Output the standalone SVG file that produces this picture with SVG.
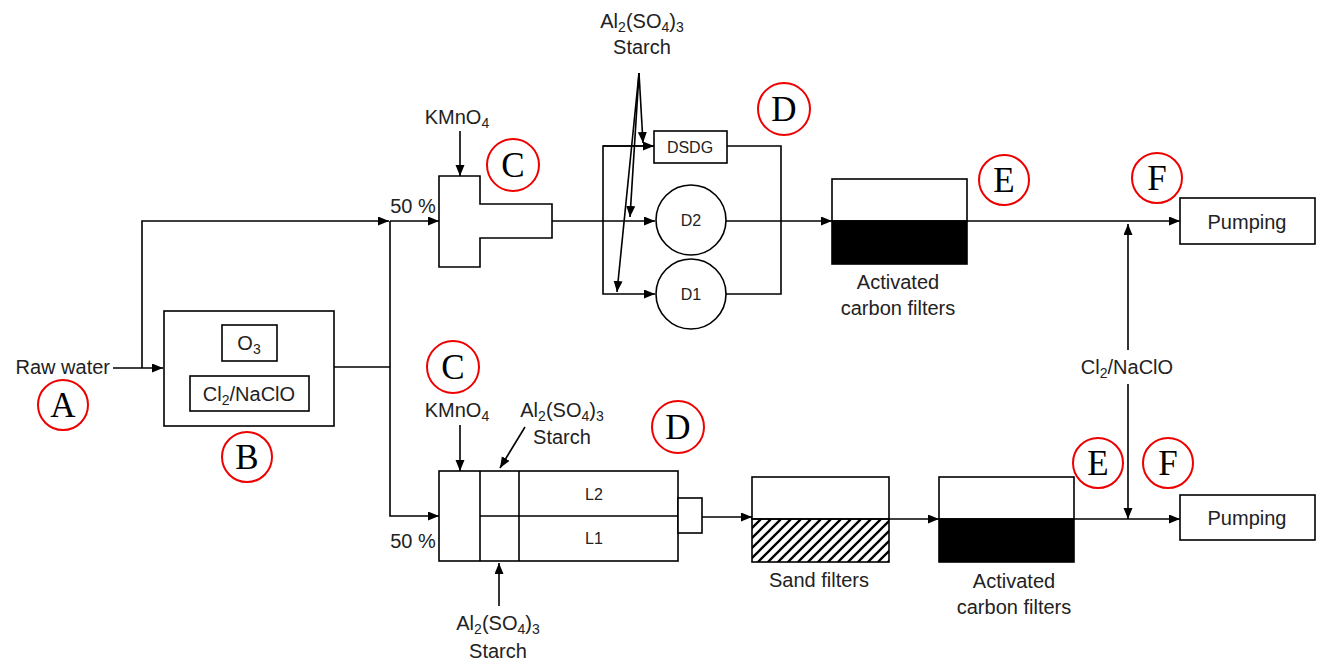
<svg xmlns="http://www.w3.org/2000/svg" width="1317" height="663" viewBox="0 0 1317 663">
<style>
.ln{fill:none;stroke:#000;stroke-width:1.6}
.bx{fill:#fff;stroke:#000;stroke-width:1.6}
.rc{fill:#fff;stroke:#e00;stroke-width:2}
.t{font-family:"Liberation Sans",Arial,sans-serif;font-size:20px;fill:#222}
.s{font-family:"Liberation Sans",Arial,sans-serif;font-size:16px;fill:#222}
.L{font-family:"Liberation Serif","Times New Roman",serif;font-size:35px;fill:#000}
.m{text-anchor:middle}
</style>
<defs>
<marker id="ah" markerUnits="userSpaceOnUse" markerWidth="12" markerHeight="10" refX="11" refY="4.5" orient="auto">
<path d="M0,0 L11,4.5 L0,9 z" fill="#000"/>
</marker>
<pattern id="hatch" patternUnits="userSpaceOnUse" width="10" height="10">
<path d="M-2,2 L2,-2 M0,10 L10,0 M8,12 L12,8" stroke="#000" stroke-width="2.3"/>
</pattern>
</defs>

<g id="connectors">
<path class="ln" d="M113,368 H163" marker-end="url(#ah)"/>
<path class="ln" d="M142,368 V221 H389" marker-end="url(#ah)"/>
<path class="ln" d="M334,367 H390"/>
<path class="ln" d="M390,221 V516 H439" marker-end="url(#ah)"/>
<path class="ln" d="M390,221 H439" marker-end="url(#ah)"/>
<path class="ln" d="M460,131 V176" marker-end="url(#ah)"/>
<path class="ln" d="M552,221 H655" marker-end="url(#ah)"/>
<path class="ln" d="M654,146 H603 V294 H655" marker-end="url(#ah)"/>
<path class="ln" d="M603,146 H654" marker-end="url(#ah)"/>
<path class="ln" d="M727,146 H781 V294 H726"/>
<path class="ln" d="M639,73 L643,143" marker-end="url(#ah)"/>
<path class="ln" d="M639,73 L630,217" marker-end="url(#ah)"/>
<path class="ln" d="M639,73 L617,292" marker-end="url(#ah)"/>
<path class="ln" d="M726,221 H832" marker-end="url(#ah)"/>
<path class="ln" d="M967,221 H1180" marker-end="url(#ah)"/>
<path class="ln" d="M1128,350 V224" marker-end="url(#ah)"/>
<path class="ln" d="M1128,384 V519" marker-end="url(#ah)"/>
<path class="ln" d="M460,425 V471" marker-end="url(#ah)"/>
<path class="ln" d="M525,427 L500,468" marker-end="url(#ah)"/>
<path class="ln" d="M499,606 V563" marker-end="url(#ah)"/>
<path class="ln" d="M702,517 H752" marker-end="url(#ah)"/>
<path class="ln" d="M889,519 H939" marker-end="url(#ah)"/>
<path class="ln" d="M1074,519 H1180" marker-end="url(#ah)"/>
</g>

<g id="raw-water">
<text class="t" x="110" y="374" text-anchor="end">Raw water</text>
</g>

<g id="pre-oxidation">
<rect class="bx" x="164" y="311" width="170" height="115"/>
<rect class="bx" x="222" y="325" width="55" height="36"/>
<text class="t m" x="249" y="350">O<tspan font-size="14" dy="4">3</tspan></text>
<rect class="bx" x="190" y="376" width="119" height="35"/>
<text class="t m" x="249" y="401">Cl<tspan font-size="14" dy="4">2</tspan><tspan dy="-4">/NaClO</tspan></text>
</g>

<g id="label-50-top"><text class="t m" x="413" y="213">50 %</text></g>
<g id="label-50-bottom"><text class="t m" x="413" y="548">50 %</text></g>

<g id="kmno4-top"><text class="t m" x="457" y="124">KMnO<tspan font-size="14" dy="4">4</tspan></text></g>
<g id="mixer-top">
<path class="bx" d="M439,176 H480 V204 H552 V238 H480 V267 H439 Z"/>
</g>

<g id="coag-top">
<text class="t m" x="642" y="28">Al<tspan font-size="14" dy="4">2</tspan><tspan dy="-4">(SO</tspan><tspan font-size="14" dy="4">4</tspan><tspan dy="-4">)</tspan><tspan font-size="14" dy="4">3</tspan></text>
<text class="t m" x="642" y="54">Starch</text>
</g>

<g id="dsdg">
<rect class="bx" x="654" y="131" width="73" height="32"/>
<text class="s m" x="690" y="153">DSDG</text>
</g>
<g id="d2">
<circle class="bx" cx="691" cy="220" r="35"/>
<text class="s m" x="691" y="226">D2</text>
</g>
<g id="d1">
<circle class="bx" cx="691" cy="294" r="35"/>
<text class="s m" x="691" y="300">D1</text>
</g>

<g id="gac-top">
<rect class="bx" x="832" y="179" width="135" height="42"/>
<rect x="832" y="221" width="135" height="43" fill="#000" stroke="#000" stroke-width="1.6"/>
<text class="t m" x="898" y="289">Activated</text>
<text class="t m" x="898" y="315">carbon filters</text>
</g>

<g id="pump-top">
<rect class="bx" x="1180" y="198" width="135" height="46"/>
<text class="t m" x="1247" y="229">Pumping</text>
</g>

<g id="chlorine">
<text class="t m" x="1127" y="374">Cl<tspan font-size="14" dy="4">2</tspan><tspan dy="-4">/NaClO</tspan></text>
</g>

<g id="kmno4-bottom"><text class="t m" x="457" y="417">KMnO<tspan font-size="14" dy="4">4</tspan></text></g>
<g id="coag-bottom-top">
<text class="t m" x="562" y="417">Al<tspan font-size="14" dy="4">2</tspan><tspan dy="-4">(SO</tspan><tspan font-size="14" dy="4">4</tspan><tspan dy="-4">)</tspan><tspan font-size="14" dy="4">3</tspan></text>
<text class="t m" x="562" y="444">Starch</text>
</g>
<g id="coag-bottom-below">
<text class="t m" x="498" y="630">Al<tspan font-size="14" dy="4">2</tspan><tspan dy="-4">(SO</tspan><tspan font-size="14" dy="4">4</tspan><tspan dy="-4">)</tspan><tspan font-size="14" dy="4">3</tspan></text>
<text class="t m" x="498" y="658">Starch</text>
</g>

<g id="settler">
<rect class="bx" x="439" y="471" width="239" height="90"/>
<path class="ln" d="M480,471 V561 M519,471 V561 M480,516 H678"/>
<text class="s m" x="594" y="500">L2</text>
<text class="s m" x="594" y="544">L1</text>
<rect class="bx" x="678" y="498" width="24" height="35"/>
</g>

<g id="sand">
<rect class="bx" x="752" y="477" width="137" height="42"/>
<rect x="752" y="519" width="137" height="43" fill="url(#hatch)" stroke="#000" stroke-width="1.6"/>
<text class="t m" x="819" y="587">Sand filters</text>
</g>

<g id="gac-bottom">
<rect class="bx" x="939" y="477" width="135" height="42"/>
<rect x="939" y="519" width="135" height="43" fill="#000" stroke="#000" stroke-width="1.6"/>
<text class="t m" x="1014" y="588">Activated</text>
<text class="t m" x="1014" y="614">carbon filters</text>
</g>

<g id="pump-bottom">
<rect class="bx" x="1180" y="495" width="135" height="45"/>
<text class="t m" x="1247" y="525">Pumping</text>
</g>

<g id="markers">
<circle class="rc" cx="63" cy="405" r="25"/><text class="L m" x="63" y="417">A</text>
<circle class="rc" cx="247" cy="457" r="25"/><text class="L m" x="247" y="469">B</text>
<circle class="rc" cx="513" cy="165" r="26"/><text class="L m" x="513" y="177">C</text>
<circle class="rc" cx="453" cy="367" r="26"/><text class="L m" x="453" y="379">C</text>
<circle class="rc" cx="784" cy="109" r="26"/><text class="L m" x="784" y="121">D</text>
<circle class="rc" cx="678" cy="427" r="26"/><text class="L m" x="678" y="439">D</text>
<circle class="rc" cx="1004" cy="180" r="25"/><text class="L m" x="1004" y="192">E</text>
<circle class="rc" cx="1098" cy="463" r="25"/><text class="L m" x="1098" y="475">E</text>
<circle class="rc" cx="1157" cy="178" r="25"/><text class="L m" x="1157" y="190">F</text>
<circle class="rc" cx="1168" cy="463" r="25"/><text class="L m" x="1168" y="475">F</text>
</g>
</svg>
